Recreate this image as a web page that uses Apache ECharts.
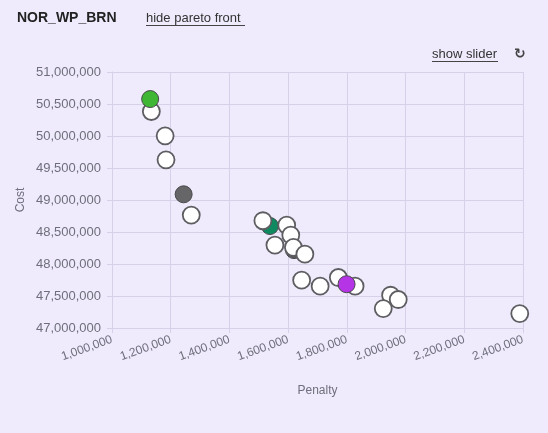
<!DOCTYPE html>
<html>
<head>
<meta charset="utf-8">
<script src="https://cdn.jsdelivr.net/npm/echarts@6/dist/echarts.min.js"></script>
<style>
  html, body { margin: 0; padding: 0; background: #efebfc; }
  #chart { width: 548px; height: 433px; }
</style>
</head>
<body>
<div id="chart"></div>
<script>
const penaltyTicks = [1000000, 1200000, 1400000, 1600000, 1800000, 2000000, 2200000, 2400000]
const costTicks = [47000000, 47500000, 48000000, 48500000, 49000000, 49500000, 50000000, 50500000, 51000000]

// pareto front solutions (white)
const penalty = [1134000, 1181000, 1184000, 1270000, 1514000, 1595000, 1609000, 1555000, 1618000,
    1657000, 1646000, 1709000, 1771000, 1828000, 1949000, 1975000, 1924000, 2389000]
const cost = [50383000, 50002000, 49627000, 48765000, 48676000, 48608000, 48452000, 48296000, 48260000,
    48154000, 47747000, 47653000, 47789000, 47653000, 47512000, 47445000, 47304000, 47225000]

// highlighted solutions
const pickedNames = ['best cost', 'current', 'selected A', 'selected B', 'selected C']
const pickedPenalty = [1130000, 1244000, 1538000, 1620000, 1799000]
const pickedCost = [50577000, 49089000, 48593000, 48217000, 47684000]
const pickedColors = ['#3fb634', '#666668', '#0f8a60', '#58585a', '#b535e6']

const chartDom = document.querySelector('#chart')
const myChart = echarts.init(chartDom)
const font = 'Liberation Sans, Arial, sans-serif'
const gridColor = '#d6d1e8'
const labelColor = '#6f6e7c'
// these two sit underneath the white markers in the original
const drawnBelow = ['selected A', 'selected B']

const whiteData = penalty.map((p, i) => [p, cost[i]])
const pickedData = pickedPenalty.map((p, i) => ({
    name: pickedNames[i],
    value: [p, pickedCost[i]],
    itemStyle: { color: pickedColors[i] },
}))

const pickedStyle = { borderColor: '#4a4a4e', borderWidth: 1, opacity: 1 }

const option = {
    backgroundColor: '#efebfc',
    animation: false,
    textStyle: { fontFamily: font },
    grid: { left: 112, right: 25, top: 72, bottom: 105 },
    xAxis: {
        type: 'value',
        min: penaltyTicks[0],
        max: penaltyTicks[penaltyTicks.length - 1],
        interval: 200000,
        name: 'Penalty',
        nameLocation: 'middle',
        nameGap: 57,
        nameMoveOverlap: false,
        nameTextStyle: { color: labelColor, fontSize: 12, fontFamily: font },
        axisLine: { show: true, lineStyle: { color: gridColor } },
        axisTick: { show: true, length: 5, lineStyle: { color: gridColor } },
        splitLine: { show: true, lineStyle: { color: gridColor } },
        axisLabel: {
            rotate: 20,
            color: labelColor,
            fontSize: 12,
            fontFamily: font,
            margin: 11,
            formatter: (v) => v.toLocaleString('en-US'),
        },
    },
    yAxis: {
        type: 'value',
        min: costTicks[0],
        max: costTicks[costTicks.length - 1],
        interval: 500000,
        name: 'Cost',
        nameLocation: 'middle',
        nameGap: 85,
        nameMoveOverlap: false,
        nameTextStyle: { color: labelColor, fontSize: 12, fontFamily: font },
        axisLine: { show: true, lineStyle: { color: gridColor } },
        axisTick: { show: true, length: 5, lineStyle: { color: gridColor } },
        splitLine: { show: true, lineStyle: { color: gridColor } },
        axisLabel: {
            color: labelColor,
            fontSize: 13,
            fontFamily: font,
            margin: 11,
            formatter: (v) => v.toLocaleString('en-US'),
        },
    },
    graphic: [
        { type: 'text', left: 17, top: 11, style: { text: 'NOR_WP_BRN', font: 'bold 14px ' + font, fill: '#222' } },
        { type: 'text', left: 146, top: 12, style: { text: 'hide pareto front', font: '13px ' + font, fill: '#333' } },
        { type: 'rect', left: 146, top: 25, shape: { width: 99, height: 1 }, style: { fill: '#444' } },
        { type: 'text', left: 432, top: 48, style: { text: 'show slider', font: '13px ' + font, fill: '#333' } },
        { type: 'rect', left: 432, top: 61, shape: { width: 66, height: 1 }, style: { fill: '#444' } },
        { type: 'text', left: 514, top: 47, style: { text: '\u21bb', font: 'bold 14px DejaVu Sans', fill: '#444' } },
    ],
    series: [
        {
            name: 'picked below',
            type: 'scatter',
            symbolSize: 17,
            itemStyle: pickedStyle,
            data: pickedData.filter((d) => drawnBelow.includes(d.name)),
            z: 1,
        },
        {
            name: 'pareto',
            type: 'scatter',
            symbolSize: 17,
            itemStyle: { color: '#ffffff', borderColor: '#5e5e62', borderWidth: 1.8, opacity: 1 },
            data: whiteData,
            z: 2,
        },
        {
            name: 'picked',
            type: 'scatter',
            symbolSize: 17,
            itemStyle: pickedStyle,
            data: pickedData.filter((d) => !drawnBelow.includes(d.name)),
            z: 3,
        },
    ],
}
myChart.setOption(option)
</script>
</body>
</html>
